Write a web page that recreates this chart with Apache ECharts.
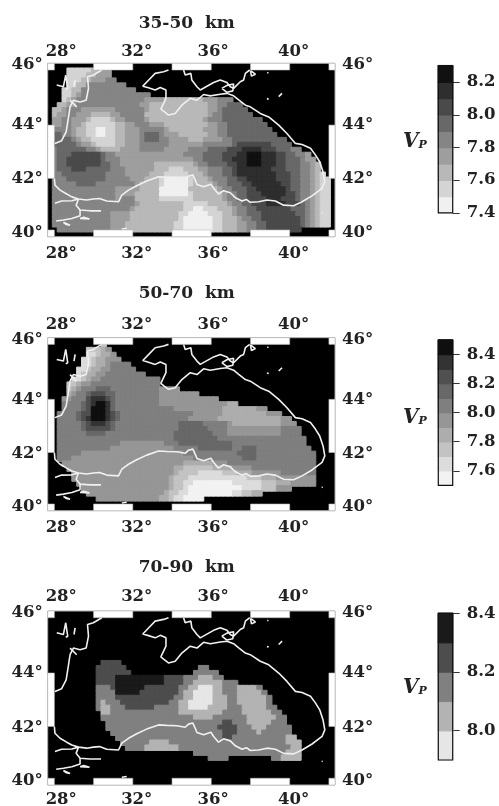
<!DOCTYPE html>
<html><head><meta charset="utf-8">
<style>html,body{margin:0;padding:0;background:#fff}#c{width:499px;height:806px}</style>
<script src="https://cdn.jsdelivr.net/npm/echarts@6/dist/echarts.min.js"></script>
</head><body><div id="c"></div>
<script>
// Band mid-values and grey levels of the three colour bars (light to dark)
const levels3550 = [7.45,7.55,7.65,7.75,7.85,7.95,8.05,8.15,8.25];
const greys3550  = ['#f0f0f0','#d4d4d4','#b8b8b8','#9e9e9e','#858585','#686868','#4a4a4a','#2e2e2e','#111111'];
const levels5070 = [7.55,7.65,7.75,7.85,7.95,8.05,8.15,8.25,8.35,8.45];
const greys5070  = ['#f2f2f2','#dcdcdc','#c3c3c3','#adadad','#969696','#7f7f7f','#686868','#505050','#333333','#0f0f0f'];
const levels7090 = [7.95,8.05,8.15,8.25,8.35];
const greys7090  = ['#e6e6e6','#b3b3b3','#808080','#4d4d4d','#1a1a1a'];

// Gridded model, top row first; each token "level>endColumn" (0 = no data)
const rows3550 = [
'',
'0>4 2>9 3>11 4>13',
'0>4 2>8 3>10 4>13',
'0>4 2>7 3>9 4>12 5>14',
'0>4 2>6 3>8 5>16',
'0>3 2>5 3>7 5>18',
'0>3 2>5 3>6 4>7 5>21',
'0>3 2>4 3>5 4>6 5>20 4>24 3>32 4>35 5>38',
'0>2 3>4 4>6 5>19 4>21 3>33 4>35 5>37 6>40',
'0>1 3>3 4>4 5>7 4>14 5>20 4>21 3>33 4>35 5>36 6>41',
'0>1 3>2 4>4 5>6 4>9 3>13 4>15 5>20 3>33 4>34 5>36 6>42',
'0>1 4>3 5>5 4>8 3>9 2>13 3>14 4>16 5>20 4>21 3>32 4>33 5>36 6>44',
'0>1 4>3 5>5 4>7 3>8 2>14 3>16 4>18 5>21 4>24 3>33 4>35 5>37 6>45',
'0>1 5>5 4>6 3>8 2>10 1>12 2>14 3>16 4>19 5>24 4>25 3>32 4>35 5>37 6>46',
'0>1 6>3 5>5 4>6 3>8 2>10 1>12 2>14 3>16 4>19 5>20 6>23 5>24 4>27 3>33 4>35 5>37 6>47',
'0>1 6>5 5>6 4>7 3>9 2>14 3>16 4>19 5>20 6>23 5>25 4>29 3>32 4>36 5>38 6>49',
'0>1 6>6 5>7 4>9 3>10 2>14 3>16 4>19 5>25 4>32 5>38 6>39 7>46 6>50',
'0>1 5>2 6>8 5>10 4>11 3>15 4>19 5>24 4>29 5>33 6>37 7>40 8>44 7>47 6>50 5>52',
'0>1 5>2 6>5 7>11 6>12 5>14 4>28 5>32 6>36 7>39 8>41 9>44 8>47 7>49 6>51 5>53 4>54',
'0>1 5>2 6>4 7>11 6>12 5>15 4>30 5>32 6>36 7>38 8>41 9>44 8>47 7>49 6>52 5>53 4>55',
'0>1 5>2 6>4 7>11 6>13 5>15 4>22 3>30 4>31 5>33 6>37 7>39 8>41 9>44 8>47 7>49 6>52 5>54 4>55 3>56',
'0>1 5>2 6>5 7>8 6>13 5>16 4>22 3>25 2>28 3>31 4>33 5>36 6>38 7>39 8>46 7>49 6>52 5>54 4>55 3>56',
'0>1 5>3 6>12 5>16 4>21 3>24 2>29 3>32 4>33 5>36 6>38 7>39 8>47 7>50 6>52 5>54 4>55 3>56 2>57',
'0>1 5>4 6>12 5>17 4>20 3>23 2>24 1>29 2>30 3>33 4>34 5>37 6>39 7>41 8>47 7>50 6>52 5>54 4>55 3>56 2>58',
'0>1 5>6 6>10 5>18 4>19 3>23 2>24 1>29 2>30 3>34 4>35 5>37 6>40 7>42 8>48 7>50 6>52 5>54 4>55 3>56 2>58',
'0>1 5>14 4>19 3>23 1>29 3>35 4>36 5>38 6>41 7>43 8>49 7>50 6>52 5>54 4>55 3>56 2>58',
'0>1 5>14 4>18 3>23 1>29 2>30 3>36 4>37 5>39 6>41 7>44 8>49 7>51 6>52 5>54 4>55 3>56 2>58',
'0>1 5>14 4>15 5>18 3>23 2>30 3>36 4>37 5>39 6>41 7>45 8>48 7>51 6>52 5>54 4>55 3>56 2>58',
'0>1 5>18 4>19 3>28 2>33 3>37 4>38 5>40 6>42 7>45 8>49 7>52 6>53 5>54 4>55 3>56 2>58',
'0>1 5>17 4>18 3>28 2>30 1>32 2>35 3>38 4>39 5>41 6>43 7>50 6>53 5>54 4>55 3>56 2>58',
'0>1 5>13 4>17 3>27 2>29 1>33 2>36 3>38 4>39 5>41 6>44 7>51 6>53 5>54 4>55 3>56 2>58',
'0>1 5>13 4>17 3>27 2>28 1>34 2>36 3>39 4>40 5>42 6>44 7>52 6>53 5>54 4>55 3>56 2>58',
'0>1 5>13 4>16 3>26 2>28 1>34 2>36 3>39 4>41 5>43 6>45 7>52 6>53 5>54 4>55 3>56 2>58',
'0>2 5>13 4>16 3>26 2>28 1>34 2>36 3>39 4>41 5>43 6>45 7>52',
''
];
const rows5070 = [
'',
'0>11 3>12',
'0>8 3>11 4>12 5>13',
'0>8 2>10 3>11 4>13 5>14',
'0>7 2>9 3>10 4>12 5>15',
'0>7 2>9 3>10 4>12 5>13 6>17',
'0>6 2>8 3>9 4>11 5>13 6>18',
'0>6 2>7 3>8 4>10 5>12 6>20',
'0>5 2>7 3>8 4>9 5>11 6>23',
'0>4 3>6 4>7 5>9 6>23',
'0>4 3>5 4>6 5>7 6>10 7>13 6>23 5>27',
'0>4 4>5 5>6 6>8 7>9 8>12 7>14 6>23 5>31',
'0>3 5>5 6>8 8>9 9>12 8>13 7>14 6>23 5>35',
'0>3 6>7 7>8 8>9 9>10 10>12 9>13 7>14 6>23 5>37 4>39',
'0>3 6>7 7>8 8>9 10>12 9>13 7>14 6>26 5>36 4>43 5>45',
'0>2 6>6 7>7 8>9 10>12 9>13 8>14 7>15 6>30 5>36 4>45 5>48',
'0>2 6>6 7>7 8>8 9>9 10>12 9>13 8>14 7>15 6>29 5>35 4>48 5>50',
'0>2 6>7 7>8 8>9 9>12 8>13 7>14 6>27 7>32 6>37 5>38 4>48 5>51',
'0>2 6>7 7>8 8>13 7>14 6>27 7>33 6>37 5>48 6>52',
'0>2 6>8 7>12 6>26 7>34 6>37 5>48 6>52',
'0>2 6>26 7>35 6>53',
'0>2 6>15 5>24 6>27 7>38 6>53',
'0>2 6>13 5>26 6>31 7>38 6>40 7>43 6>54',
'0>2 6>7 5>28 6>39 7>43 6>55',
'0>2 6>5 5>30 6>40 7>43 6>55',
'0>3 5>28 4>34 5>37 6>55',
'0>4 5>26 4>28 3>34 4>38 5>42 6>55',
'0>5 5>26 4>27 3>31 2>36 3>39 4>42 5>48 6>55',
'0>5 5>25 4>26 3>29 2>41 3>44 4>47 5>55',
'0>6 5>25 4>26 3>28 2>30 1>38 2>44 3>47 4>50 5>55',
'0>7 5>25 4>26 3>28 2>29 1>40 2>44 3>47 5>50',
'0>8 5>24 4>25 3>27 2>29 1>38 2>40 3>42 4>44',
'0>10 5>23 4>25 3>26 2>28 1>32',
'',
''
];
const rows7090 = [
'','','','','','','','','','',
'0>11 4>15',
'0>10 4>16 0>31 3>33',
'0>10 4>17 0>30 3>35',
'0>10 4>14 5>24 4>28 3>31 2>34 3>36',
'0>10 4>14 5>24 4>28 3>30 2>36 3>39',
'0>10 3>13 4>14 5>20 4>27 3>29 2>31 1>34 2>36 3>39 2>43 3>44',
'0>10 3>14 5>19 4>27 3>28 2>30 1>34 2>36 3>39 2>44 3>45',
'0>10 3>14 4>26 3>28 2>30 1>34 2>37 3>39 2>45 3>46',
'0>10 3>11 2>12 3>15 4>25 3>27 2>29 1>34 2>37 3>39 2>45 3>46',
'0>10 3>11 2>13 3>16 4>22 3>27 2>29 1>33 2>37 3>40 2>45 3>47',
'0>11 2>13 3>27 2>36 3>40 2>46 3>48',
'0>11 3>30 2>34 3>41 2>47 3>49',
'0>12 3>36 4>38 3>41 2>46 3>49',
'0>12 3>35 4>39 3>42 2>45 3>50',
'0>13 3>36 4>39 3>43 2>44 3>50',
'0>14 3>36 4>38 3>49 2>51',
'0>15 3>21 2>25 3>49 2>52',
'0>16 3>20 2>27 3>50 2>52',
'0>30 3>49 2>52',
'0>33 3>37 0>46 3>48 2>52',
'','','','',''
];

// Coastline, [longitude, latitude]
const coastBlackSea = [[28.00,42.00],[28.03,41.74],[28.29,41.55],[28.63,41.40],[28.89,41.29],[29.23,41.21],[29.65,41.17],[29.99,41.21],[30.30,41.23],[30.67,41.13],[31.27,41.10],[31.44,41.36],[31.78,41.55],[32.20,41.72],[32.71,41.90],[33.31,42.06],[33.74,42.04],[34.25,42.03],[34.67,41.97],[34.84,42.09],[35.06,42.13],[35.18,41.94],[35.27,41.77],[35.61,41.68],[35.98,41.78],[36.12,41.62],[36.37,41.40],[36.63,41.53],[36.97,41.45],[37.23,41.26],[37.57,41.13],[37.79,41.19],[37.99,41.08],[38.42,41.10],[38.84,41.17],[39.27,41.13],[39.69,40.97],[40.20,40.95],[40.63,41.10],[41.14,41.33],[41.65,41.62],[41.79,41.87],[41.70,42.25],[41.53,42.63],[41.31,42.89],[41.06,43.14],[40.63,43.28],[40.29,43.32],[39.86,43.69],[39.44,44.00],[38.93,44.30],[38.50,44.43],[37.99,44.67],[37.74,44.73],[37.40,44.92],[37.14,45.07],[36.80,45.16],[36.46,45.13],[35.95,45.07],[35.61,45.12],[35.27,44.91],[34.93,44.98],[34.50,44.73],[34.16,44.43],[33.82,44.37],[33.57,44.51],[33.43,44.59],[33.69,44.98],[33.69,45.28],[33.40,45.37],[33.14,45.28],[32.80,45.36],[32.51,45.42],[32.85,45.67],[33.14,45.88],[33.57,45.94],[33.82,46.00]];
const coastAzov = [[34.59,46.00],[34.67,45.82],[34.96,45.88],[35.01,45.64],[35.27,45.40],[35.44,45.28],[36.12,45.55],[36.46,45.64],[36.80,45.55],[36.97,45.40],[37.14,45.34],[37.48,45.58],[37.65,45.64],[37.74,45.88],[37.96,46.00]];
const coastKerch = [[36.54,45.34],[36.80,45.45],[37.14,45.50],[37.10,45.25],[36.80,45.20],[36.54,45.34]];
const coastWest = [[30.42,46.00],[29.99,45.82],[29.69,45.76],[29.74,45.34],[29.62,44.91],[29.31,44.85],[28.97,44.91],[28.80,44.67],[28.71,44.24],[28.60,43.75],[28.37,43.42],[28.03,43.32]];
const coastInlet1 = [[28.12,45.46],[28.46,45.40],[28.58,45.82],[28.68,45.34],[28.58,45.30]];
const coastInlet2 = [[29.06,45.64],[29.00,45.40]];
const coastInlet3 = [[28.80,44.91],[29.14,44.67]];
const coastMarmaraN = [[28.03,41.04],[28.37,41.13],[28.89,41.14],[29.23,41.21],[29.11,40.97],[29.31,40.78],[29.82,40.75],[30.38,40.75]];
const coastMarmaraS = [[28.09,40.35],[28.46,40.39],[28.89,40.45],[29.31,40.56],[29.31,40.78]];
const coastIsland1 = [[29.31,40.45],[29.79,40.43],[29.50,40.50],[29.31,40.45]];
const coastIsland2 = [[28.46,40.30],[28.80,40.19],[28.60,40.22],[28.46,40.30]];
const coastIsland3 = [[38.84,44.97],[38.93,44.95]];
const coastIsland4 = [[39.44,45.04],[39.61,45.16]];
const coastIsland5 = [[38.85,45.90],[38.92,45.90]];
const coastIsland6 = [[41.63,40.65],[41.68,40.67]];
const coastIsland7 = [[31.44,40.04],[31.69,40.07]];
const coastIsland8 = [[38.00,45.98],[38.25,45.85],[38.05,45.78],[38.00,45.98]];
const coastLines = [coastBlackSea,coastAzov,coastKerch,coastWest,coastInlet1,coastInlet2,coastInlet3,coastMarmaraN,coastMarmaraS,coastIsland1,coastIsland2,coastIsland3,coastIsland4,coastIsland5,coastIsland6,coastIsland7,coastIsland8];

// Map extent, alternating frame bands and tick labels
const lonExtent = [27.66, 42.31];
const latBorder = 0.006;
const frameLonBands = [[27.66,28],[30,32],[34,36],[38,40],[42,42.31]];
const frameLatBands = [[44,42]];
const lonLabelAt = [28.35,32.2,36.1,40.2];
const latLabelAt = [46.18,44,41.97,39.9];
const colorTicks3550 = [7.4,7.6,7.8,8.0,8.2];
const colorTicks5070 = [7.6,7.8,8.0,8.2,8.4];
const colorTicks7090 = [8.0,8.2,8.4];

// Mercator ordinate: the maps use a Mercator projection
const merc = lat => Math.log(Math.tan(Math.PI/4 + lat*Math.PI/360));
const yMin = merc(40)-latBorder, yMax = merc(46)+latBorder;

const SERIF = '"DejaVu Serif", serif';
const panels = [
 {title:'35-50  km', titleTop:10, top:63.3, h:173.4, topM:3, botM:9, rows:rows3550, levels:levels3550, greys:greys3550,
  bar:{top:65.7,h:147.2,min:7.4,max:8.3,ticks:colorTicks3550}, vpTop:127},
 {title:'50-70  km', titleTop:280, top:337.7, h:173, topM:4, botM:8.5, rows:rows5070, levels:levels5070, greys:greys5070,
  bar:{top:340,h:145.3,min:7.5,max:8.5,ticks:colorTicks5070}, vpTop:403},
 {title:'70-90  km', titleTop:554, top:611, h:174, topM:5.5, botM:6.5, rows:rows7090, levels:levels7090, greys:greys7090,
  bar:{top:613.3,h:146.7,min:7.9,max:8.4,ticks:colorTicks7090}, vpTop:673}
];

const range = n => Array.from({length:n},(_,i)=>i);
function decode(rows){
  const out=[];
  rows.forEach((row,r)=>{
    let c=0;
    row.split(' ').filter(Boolean).forEach(t=>{
      const [d,end]=t.split('>').map(Number);
      for(;c<end;c++) if(d>0) out.push([c,r,d]);
    });
  });
  return out;
}
const cell=(p,c,r,i)=>({value:[c,r,p.levels[i]],itemStyle:{borderColor:p.greys[i],borderWidth:1}});
const opt={animation:false,backgroundColor:'#fff',title:[],grid:[],xAxis:[],yAxis:[],series:[],visualMap:[]};
const labelStyle={fontFamily:SERIF,fontWeight:'bold',fontSize:16.5,color:'#222'};

panels.forEach(p=>{
  opt.title.push({text:p.title,left:181.7,top:p.titleTop,textAlign:'center',textStyle:{fontFamily:SERIF,fontWeight:'bold',fontSize:17,color:'#222'}});
  opt.title.push({text:'{v|V}{p|P}',left:398,top:p.vpTop,textStyle:{rich:{
    v:{fontFamily:SERIF,fontStyle:'italic',fontWeight:'bold',fontSize:20,color:'#222'},
    p:{fontFamily:SERIF,fontStyle:'italic',fontWeight:'bold',fontSize:11,color:'#222',padding:[7,0,0,0]}}}});

  // map grid
  const g=opt.grid.length;
  opt.grid.push({left:47.7,width:287.3,top:p.top,height:p.h,show:true,backgroundColor:'#000',borderColor:'#aaa',borderWidth:1,outerBoundsMode:'none'});
  const x0=opt.xAxis.length, y0=opt.yAxis.length;
  opt.xAxis.push({type:'category',gridIndex:g,show:false,data:range(59)});
  const lonLabel={...labelStyle,customValues:lonLabelAt,formatter:v=>Math.floor(v/4)*4+'°',hideOverlap:false};
  const common={type:'value',gridIndex:g,min:lonExtent[0],max:lonExtent[1],axisLine:{show:false},axisTick:{show:false},splitLine:{show:false}};
  opt.xAxis.push({...common,position:'bottom',axisLabel:{...lonLabel,margin:p.botM}});
  opt.xAxis.push({...common,position:'top',axisLabel:{...lonLabel,margin:p.topM}});
  opt.yAxis.push({type:'category',gridIndex:g,show:false,inverse:true,data:range(35)});
  const latLabel={...labelStyle,customValues:latLabelAt.map(merc),
     formatter:v=>{const lat=(2*Math.atan(Math.exp(v))-Math.PI/2)*180/Math.PI;return Math.round(lat/2)*2+'°';}};
  const commonY={...common,min:yMin,max:yMax};
  opt.yAxis.push({...commonY,position:'left',axisLabel:{...latLabel,margin:5}});
  opt.yAxis.push({...commonY,position:'right',axisLabel:{...latLabel,margin:7}});

  const heatIdx=opt.series.length;
  opt.series.push({type:'heatmap',xAxisIndex:x0,yAxisIndex:y0,silent:true,progressive:0,z:1,
    data:decode(p.rows).map(([c,r,d])=>cell(p,c,r,d-1))});
  coastLines.forEach(line=>opt.series.push({type:'line',xAxisIndex:x0+1,yAxisIndex:y0+1,silent:true,z:3,showSymbol:false,symbol:'none',
    lineStyle:{color:'#f0f0f0',width:1.6},data:line.map(([lon,lat])=>[lon,merc(lat)])}));
  // alternating frame
  const frame=[];
  const mT=[merc(46),yMax], mB=[yMin,merc(40)];
  frameLonBands.forEach(b=>{frame.push([b[0],b[1],mT[0],mT[1]]);frame.push([b[0],b[1],mB[0],mB[1]]);});
  frameLatBands.forEach(b=>{[[27.66,28],[42,42.31]].forEach(s=>frame.push([s[0],s[1],merc(b[0]),merc(b[1])]));});
  opt.series.push({type:'custom',xAxisIndex:x0+1,yAxisIndex:y0+1,silent:true,z:4,clip:false,data:frame,
    renderItem:(params,api)=>{
      const a=api.coord([api.value(0),api.value(2)]), b=api.coord([api.value(1),api.value(3)]);
      return {type:'rect',shape:{x:Math.min(a[0],b[0]),y:Math.min(a[1],b[1]),width:Math.abs(a[0]-b[0]),height:Math.abs(a[1]-b[1])},
        style:{fill:'#fff',stroke:'#bbb',lineWidth:0.6}};
    }});

  // colour bar
  const gb=opt.grid.length;
  opt.grid.push({left:438.3,width:14.4,top:p.bar.top,height:p.bar.h,show:true,backgroundColor:'transparent',borderColor:'#111',borderWidth:1.2,z:5,outerBoundsMode:'none'});
  const xb=opt.xAxis.length, yb=opt.yAxis.length;
  opt.xAxis.push({type:'category',gridIndex:gb,show:false,data:[0]});
  opt.yAxis.push({type:'category',gridIndex:gb,show:false,data:range(p.levels.length)});
  opt.yAxis.push({type:'value',gridIndex:gb,position:'right',min:p.bar.min,max:p.bar.max,axisLine:{show:false},splitLine:{show:false},
    axisTick:{show:true,length:7,customValues:p.bar.ticks,lineStyle:{color:'#333',width:1}},
    axisLabel:{...labelStyle,margin:14,customValues:p.bar.ticks,formatter:v=>v.toFixed(1)}});
  const barIdx=opt.series.length;
  opt.series.push({type:'heatmap',xAxisIndex:xb,yAxisIndex:yb,silent:true,progressive:0,z:1,
    data:p.levels.map((v,i)=>cell(p,0,i,i))});
  opt.visualMap.push({type:'piecewise',show:false,dimension:2,seriesIndex:[heatIdx,barIdx],
    pieces:p.levels.map((v,i)=>({min:v-0.05,max:v+0.05,color:p.greys[i]}))});
});
const chart=echarts.init(document.getElementById('c'),null,{renderer:'canvas'});
chart.setOption(opt);
</script></body></html>
